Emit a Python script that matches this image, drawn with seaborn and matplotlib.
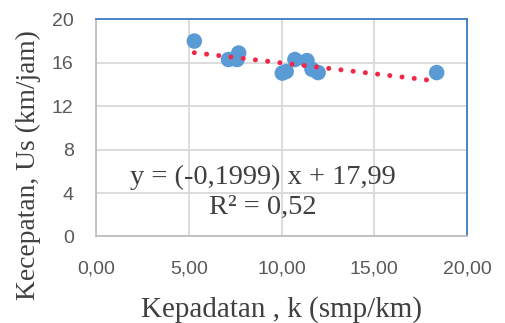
import numpy as np
import pandas as pd
import matplotlib
matplotlib.use("Agg")
import matplotlib.pyplot as plt
import seaborn as sns

# Data
kepadatan = [5.30, 7.14, 7.60, 7.69, 10.04, 10.25, 10.72, 11.37, 11.64, 11.97, 18.36]
kecepatan = [18.0, 16.3, 16.3, 16.9, 15.05, 15.2, 16.3, 16.2, 15.4, 15.1, 15.1]
slope = -0.1999
intercept = 17.99
x_ticks = [0, 5, 10, 15, 20]
x_tick_labels = ["0,00", "5,00", "10,00", "15,00", "20,00"]
y_ticks = [0, 4, 8, 12, 16, 20]

df = pd.DataFrame({"k": kepadatan, "us": kecepatan})
trend_x = np.array([min(kepadatan), 18.1])
df_trend = pd.DataFrame({"k": trend_x, "us": slope * trend_x + intercept})

sns.set_style("white")
fig = plt.figure(figsize=(5.05, 3.23), dpi=100)
ax = fig.add_axes([0.190, 0.268, 0.735, 0.672])

sns.lineplot(data=df_trend, x="k", y="us", ax=ax, color="#F0284A", linewidth=3.6,
             linestyle=(0, (0.01, 2.45)), dash_capstyle="round", zorder=3)
sns.scatterplot(data=df, x="k", y="us", ax=ax, color="#5B9BD5", s=125,
                edgecolor="none", zorder=2)

ax.set_xlim(0, 20)
ax.set_ylim(0, 20)
ax.set_xticks(x_ticks)
ax.set_xticklabels(x_tick_labels)
ax.set_yticks(y_ticks)
ax.grid(True, color="#D9D9D9", linewidth=1.3)
ax.set_axisbelow(True)

for side in ["left", "bottom"]:
    ax.spines[side].set_color("#BFBFBF")
    ax.spines[side].set_linewidth(1.3)
for side in ["top", "right"]:
    ax.spines[side].set_color("#3C7DC0")
    ax.spines[side].set_linewidth(1.3)

ax.tick_params(axis="both", which="both", length=5, width=1.2, color="#BFBFBF",
               labelcolor="#595959", labelsize=14, direction="out")
ax.tick_params(axis="x", pad=12.5)
ax.tick_params(axis="y", pad=11)
for lab in ax.get_xticklabels() + ax.get_yticklabels():
    lab.set_family("Liberation Sans")

ax.set_xlabel("Kepadatan , k (smp/km)", family="Liberation Serif", fontsize=21,
              color="#404040")
ax.set_ylabel("Kecepatan, Us (km/jam)", family="Liberation Serif", fontsize=19.8,
              color="#404040")
ax.xaxis.set_label_coords(0.501, -0.275)
ax.yaxis.set_label_coords(-0.148, 0.33)

ax.text(8.97, 5.44, "y = (-0,1999) x + 17,99", family="Liberation Serif", fontsize=20.5,
        color="#404040", ha="center", va="center")
ax.text(8.97, 2.63, "R² = 0,52", family="Liberation Serif", fontsize=20.5,
        color="#404040", ha="center", va="center")

plt.savefig("out.png", dpi=100)
